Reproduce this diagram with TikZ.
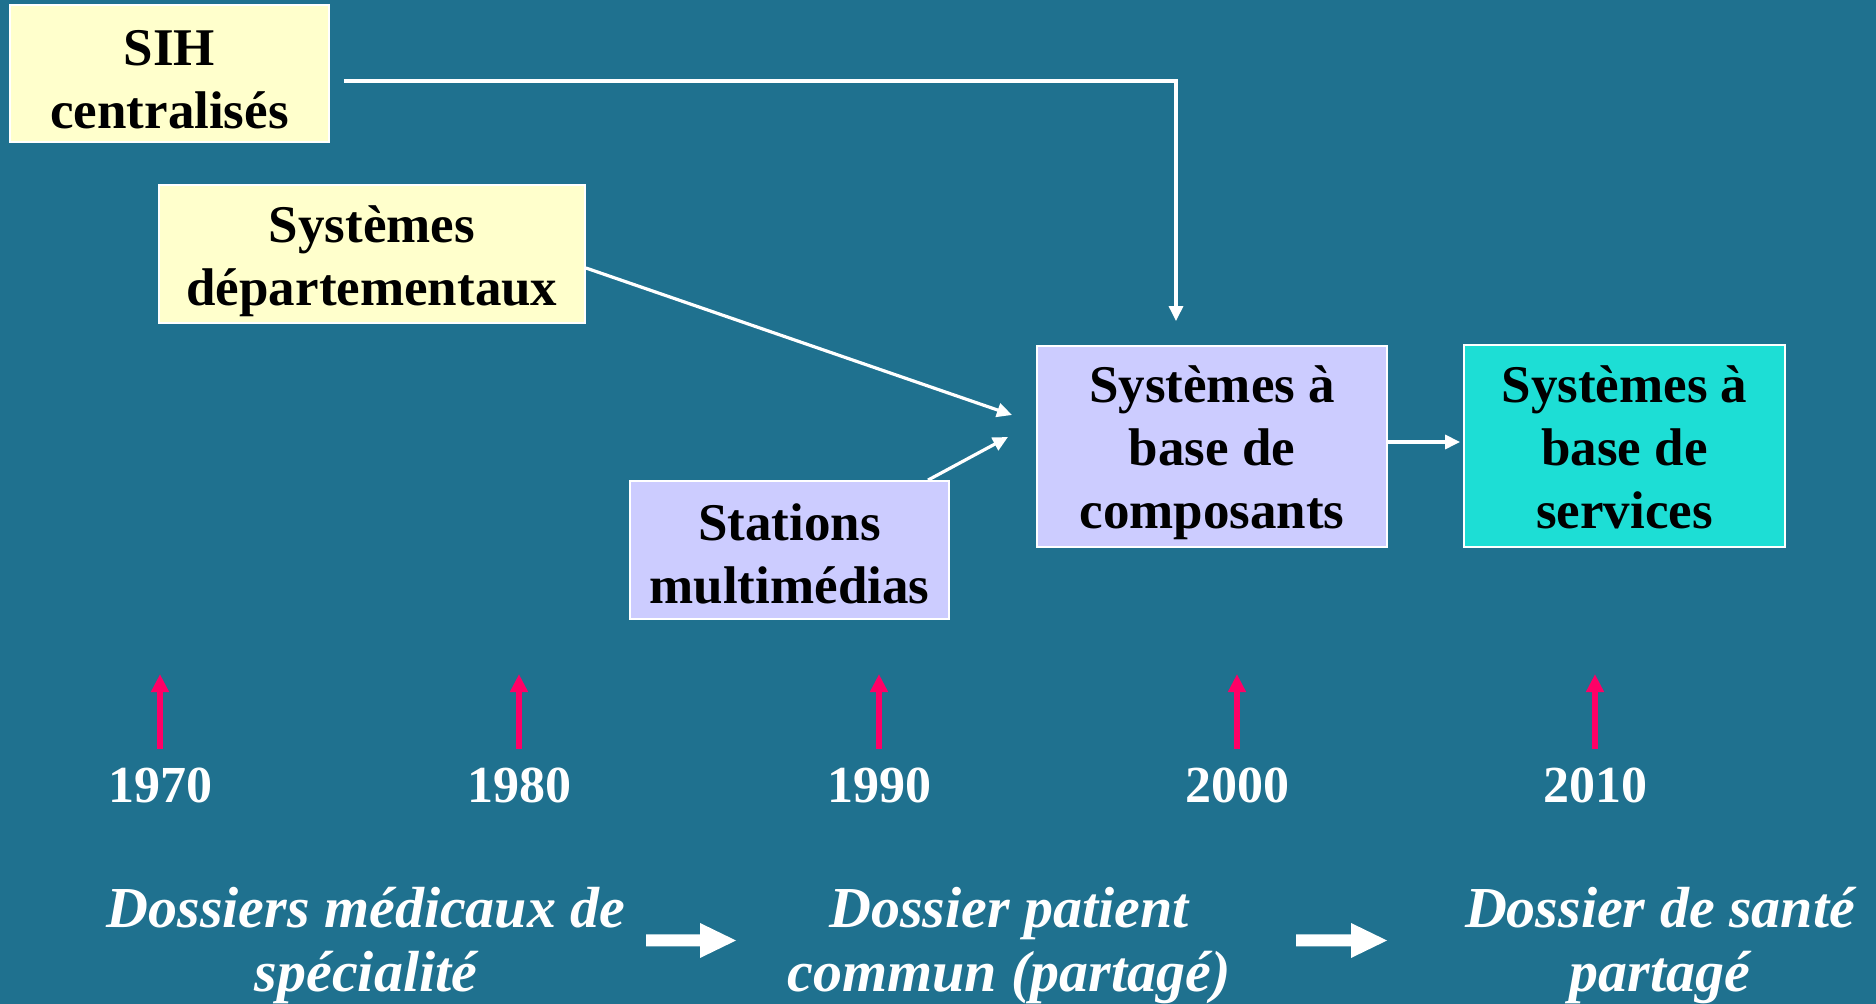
\documentclass[tikz,border=0pt]{standalone}
\usepackage{fontspec}
\setmainfont{Liberation Serif}
\usetikzlibrary{arrows.meta}
\definecolor{slide}{RGB}{31,113,143}
\definecolor{paleyellow}{RGB}{255,255,204}
\definecolor{lavender}{RGB}{204,204,255}
\definecolor{aqua}{RGB}{29,222,213}
\definecolor{tickpink}{RGB}{255,0,102}
% invisible strut that sets the height of a box's first text line
\newcommand\boxlift[1]{\rule{0pt}{#1pt}}
\begin{document}
\begin{tikzpicture}[x=0.5pt,y=-0.5pt,
  box/.style={draw=white, line width=0.9pt, inner sep=0pt, align=center,
    font=\fontsize{26.5}{31.5}\selectfont\bfseries},
  conn/.style={draw=white, line width=1.6pt, -{Triangle[length=7.5pt,width=7pt]}},
  tick/.style={draw=tickpink, line width=3pt, -{Triangle[length=9pt,width=8.5pt]}},
  year/.style={text=white, font=\fontsize{26}{31}\selectfont\bfseries, anchor=base, inner sep=0pt},
  era/.style={text=white, align=center, anchor=base, inner sep=0pt,
    font=\fontsize{29}{32}\selectfont\bfseries\itshape},
  blockarrow/.style={fill=white}]
% canvas
\fill[slide] (0,0) rectangle (1876,1004);
\useasboundingbox (0,0) rectangle (1876,1004);

% system boxes
\node[box, fill=paleyellow, minimum width=159.5pt, minimum height=68.5pt] (sih) at (169.5,73.5) {\boxlift{24}SIH\\centralisés};
\node[box, fill=paleyellow, minimum width=213pt, minimum height=69pt] (dep) at (372,254) {\boxlift{26}Systèmes\\départementaux};
\node[box, fill=lavender, minimum width=159.5pt, minimum height=69pt] (mm) at (789.5,550) {\boxlift{22}Stations\\multimédias};
\node[box, fill=lavender, minimum width=175pt, minimum height=100.5pt] (comp) at (1212,446.5) {\boxlift{25}Systèmes à\\base de\\composants};
\node[box, fill=aqua, minimum width=160.5pt, minimum height=101pt] (serv) at (1624.5,446) {\boxlift{20}Systèmes à\\base de\\services};

% arrow ends in front of the component box
\coordinate (bend) at (1176,81);
\coordinate (inA) at (1012,415);
\coordinate (inB) at (1008,437);

% connectors
\draw[conn, shorten <=7pt, shorten >=12pt] (sih.east |- bend) -- (bend) -- (bend |- comp.north);
\draw[conn] ([yshift=-7pt]dep.east) -- (inA);
\draw[conn] ([xshift=69.25pt]mm.north) -- (inB);
\draw[conn, shorten >=1.5pt] ([yshift=2.25pt]comp.east) -- ([yshift=2.25pt]comp.east -| serv.west);

% time axis
\foreach \x/\yr in {160/1970,519/1980,879/1990,1237/2000,1595/2010}{
  \node[year] (y\yr) at (\x,803) {\yr};
  \draw[tick] ([yshift=9.5pt]y\yr.north) -- ++(0,-75);
}

% record generations
\node[era] (e1) at (366,992) {Dossiers médicaux de\\spécialité};
\node[era] (e2) at (1009,992) {Dossier patient\\commun (partagé)};
\node[era] (e3) at (1660,992) {Dossier de santé\\partagé};

% block arrows between generations
\fill[blockarrow] (646,934.5) -- (700,934.5) -- (700,923) -- (736,940.5) -- (700,958) -- (700,946.5) -- (646,946.5) -- cycle;
\fill[blockarrow] (1296,934.5) -- (1351,934.5) -- (1351,923) -- (1387,940.5) -- (1351,958) -- (1351,946.5) -- (1296,946.5) -- cycle;
\end{tikzpicture}
\end{document}
